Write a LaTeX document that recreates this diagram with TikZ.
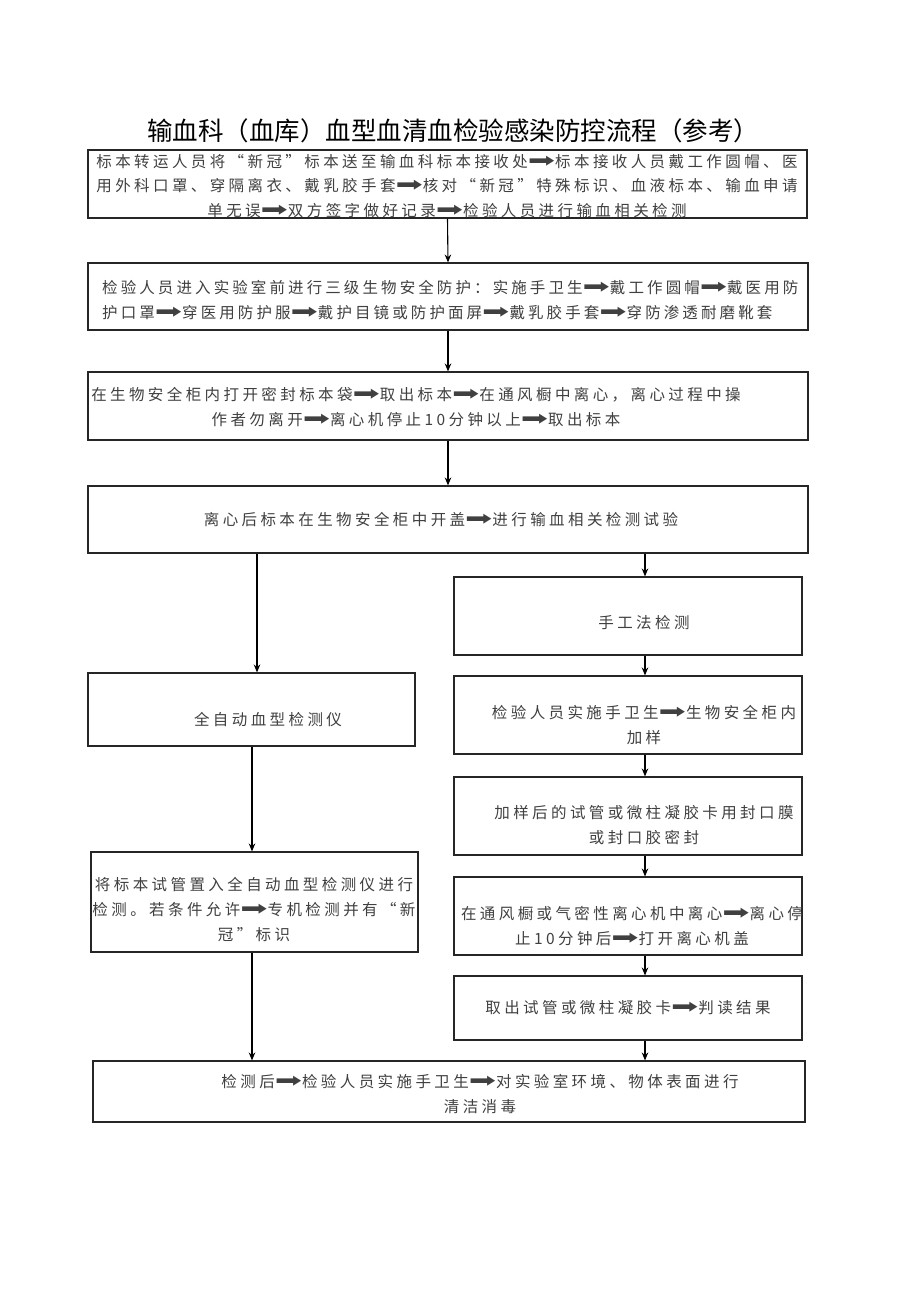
\documentclass[tikz,border=0pt]{standalone}
\usepackage{fontspec}
\usepackage{graphicx}
\usetikzlibrary{arrows.meta}
\newfontfamily\cjk[LetterSpace=22]{Noto Sans CJK SC}
\newfontfamily\cjknarrow[LetterSpace=20]{Noto Sans CJK SC}
\newfontfamily\titlefont{Noto Sans CJK SC}
\newfontfamily\arrfont{DejaVu Sans}
\newcommand\harr{{\arrfont\scalebox{2.1}[1.3]{➡}}}
\tikzset{
  box/.style={draw=black!85, line width=1.1pt, inner sep=0pt, rectangle},
  txt/.style={inner sep=0pt, align=center, text=black!75, font=\cjk\fontsize{15.5}{25}\selectfont},
  flow/.style={draw=black, line width=1.1pt, -{Stealth[length=8pt,width=6.5pt]}}
}
\begin{document}
\begin{tikzpicture}[x=1pt,y=-1pt]
\useasboundingbox[fill=white] (0,0) rectangle (920,1301);
\node[inner sep=0pt, font=\titlefont\fontsize{25.5}{30}\selectfont] (title) at (453,131) {输血科（血库）血型血清血检验感染防控流程（参考）};
% boxes
\node[box, minimum width=719pt, minimum height=68pt] (b1) at (447.5,184) {};
\node[box, minimum width=720pt, minimum height=67pt] (b2) at (448,296.5) {};
\node[box, minimum width=720pt, minimum height=68pt] (b3) at (448,406) {};
\node[box, minimum width=720pt, minimum height=67pt] (b4) at (448,519.5) {};
\node[box, minimum width=327pt, minimum height=73pt] (L1) at (251.5,709.5) {};
\node[box, minimum width=327pt, minimum height=100pt] (L2) at (254.5,902) {};
\node[box, minimum width=348pt, minimum height=78pt] (R1) at (628,616) {};
\node[box, minimum width=348pt, minimum height=78pt] (R2) at (628,715) {};
\node[box, minimum width=348pt, minimum height=78pt] (R3) at (628,816) {};
\node[box, minimum width=348pt, minimum height=78pt] (R4) at (628,916) {};
\node[box, minimum width=348pt, minimum height=64pt] (R5) at (628,1008) {};
\node[box, minimum width=712pt, minimum height=61pt] (B) at (449,1091.5) {};
% texts
\node[txt, font=\cjk\fontsize{15.5}{24.5}\selectfont] (t1) at (447,186) {标本转运人员将“新冠”标本送至输血科标本接收处\harr 标本接收人员戴工作圆帽、医\\用外科口罩、穿隔离衣、戴乳胶手套\harr 核对“新冠”特殊标识、血液标本、输血申请\\单无误\harr 双方签字做好记录\harr 检验人员进行输血相关检测};
\node[txt, align=left, anchor=west, font=\cjknarrow\fontsize{15.5}{25}\selectfont] (t2) at (102,300) {检验人员进入实验室前进行三级生物安全防护：实施手卫生\harr 戴工作圆帽\harr 戴医用防\\护口罩\harr 穿医用防护服\harr 戴护目镜或防护面屏\harr 戴乳胶手套\harr 穿防渗透耐磨靴套};
\node[txt] (t3) at (416,407) {在生物安全柜内打开密封标本袋\harr 取出标本\harr 在通风橱中离心，离心过程中操\\作者勿离开\harr 离心机停止10分钟以上\harr 取出标本};
\node[txt] (t4) at (441,520) {离心后标本在生物安全柜中开盖\harr 进行输血相关检测试验};
\node[txt] (tL1) at (268,720) {全自动血型检测仪};
\node[txt] (tL2) at (254,910) {将标本试管置入全自动血型检测仪进行\\检测。若条件允许\harr 专机检测并有“新\\冠”标识};
\node[txt] (tR1) at (644,623) {手工法检测};
\node[txt] (tR2) at (644,725) {检验人员实施手卫生\harr 生物安全柜内\\加样};
\node[txt] (tR3) at (644,825) {加样后的试管或微柱凝胶卡用封口膜\\或封口胶密封};
\node[txt] (tR4) at (632,926) {在通风橱或气密性离心机中离心\harr 离心停\\止10分钟后\harr 打开离心机盖};
\node[txt] (tR5) at (628,1008) {取出试管或微柱凝胶卡\harr 判读结果};
\node[txt] (tB) at (480,1094) {检测后\harr 检验人员实施手卫生\harr 对实验室环境、物体表面进行\\清洁消毒};
% connectors
\coordinate (xl) at (257,0);
\coordinate (xl2) at (252,0);
\coordinate (xr) at (645,0);
\draw[flow] (b1.south) -- (b2.north);
\draw[flow] (b2.south) -- (b3.north);
\draw[flow] (b3.south) -- (b4.north);
\draw[flow] (b4.south -| xl) -- (L1.north -| xl);
\draw[flow] (b4.south -| xr) -- (R1.north -| xr);
\draw[flow] (L1.south -| xl2) -- (L2.north -| xl2);
\draw[flow] (L2.south -| xl2) -- (B.north -| xl2);
\draw[flow] (R1.south -| xr) -- (R2.north -| xr);
\draw[flow] (R2.south -| xr) -- (R3.north -| xr);
\draw[flow] (R3.south -| xr) -- (R4.north -| xr);
\draw[flow] (R4.south -| xr) -- (R5.north -| xr);
\draw[flow] (R5.south -| xr) -- (B.north -| xr);
\end{tikzpicture}
\end{document}
